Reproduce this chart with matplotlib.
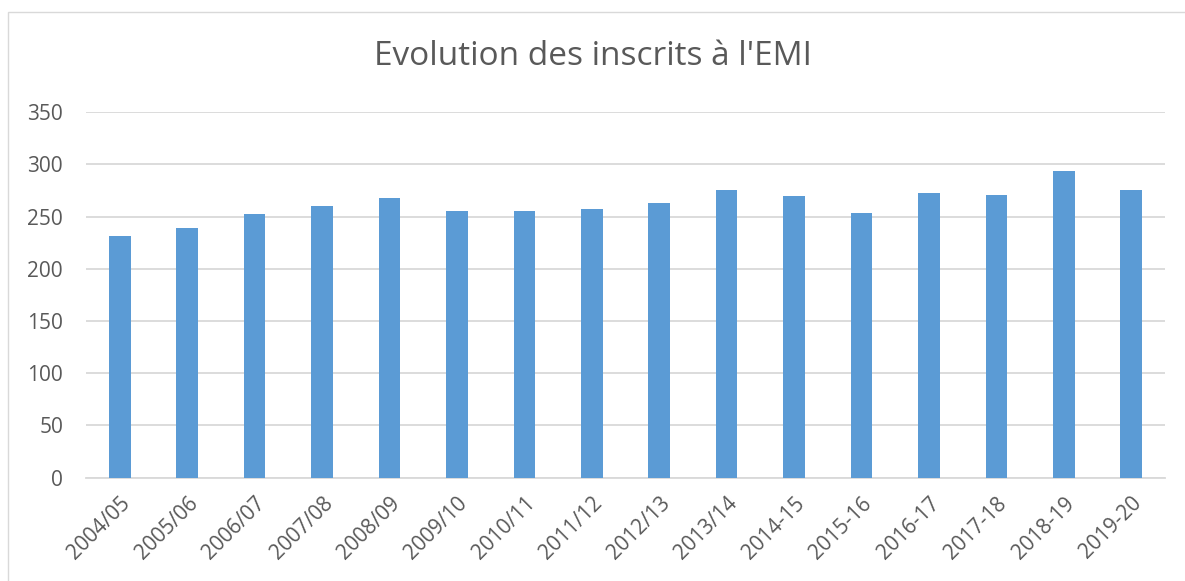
import matplotlib.pyplot as plt
from matplotlib.patches import Rectangle

# school years and number of students enrolled
years = ["2004/05", "2005/06", "2006/07", "2007/08", "2008/09", "2009/10",
         "2010/11", "2011/12", "2012/13", "2013/14", "2014-15", "2015-16",
         "2016-17", "2017-18", "2018-19", "2019-20"]
inscrits = [231, 239, 252, 260, 268, 255, 255, 257, 263, 275, 270, 253,
            273, 271, 294, 275]
yticks = [0, 50, 100, 150, 200, 250, 300, 350]

BAR = "#5B9BD5"
GRID = "#D9D9D9"
TXT = "#595959"

plt.rcParams["font.family"] = ["Open Sans", "DejaVu Sans"]

fig = plt.figure(figsize=(11.85, 5.81), dpi=100)
ax = fig.add_axes([0.0726, 0.178, 0.9105, 0.629])

x = range(len(years))
ax.bar(x, inscrits, width=0.32, color=BAR, zorder=3)

ax.set_xlim(-0.5, len(years) - 0.5)
ax.set_ylim(0, 350)
ax.set_yticks(yticks)
ax.set_yticklabels([str(v) for v in yticks], fontsize=15, color=TXT)
ax.set_xticks(list(x))
ax.set_xticklabels(years, rotation=45, ha="right", rotation_mode="anchor",
                   fontsize=15, color=TXT)
ax.tick_params(axis="both", length=0)
ax.tick_params(axis="y", pad=16.5)
ax.tick_params(axis="x", pad=11)

ax.grid(axis="y", color=GRID, linewidth=1.3, zorder=0)
for s in ["top", "right", "left"]:
    ax.spines[s].set_visible(False)
ax.spines["bottom"].set_color(GRID)
ax.spines["bottom"].set_linewidth(1.3)

fig.text(0.5, 0.903, "Evolution des inscrits à l'EMI", ha="center",
         va="center", fontsize=24, color=TXT)

# chart area border
fig.patches.append(Rectangle((0.007, -0.01), 1.0, 0.99, transform=fig.transFigure,
                             fill=False, edgecolor=GRID, linewidth=1))

fig.savefig("out.png", dpi=100)
